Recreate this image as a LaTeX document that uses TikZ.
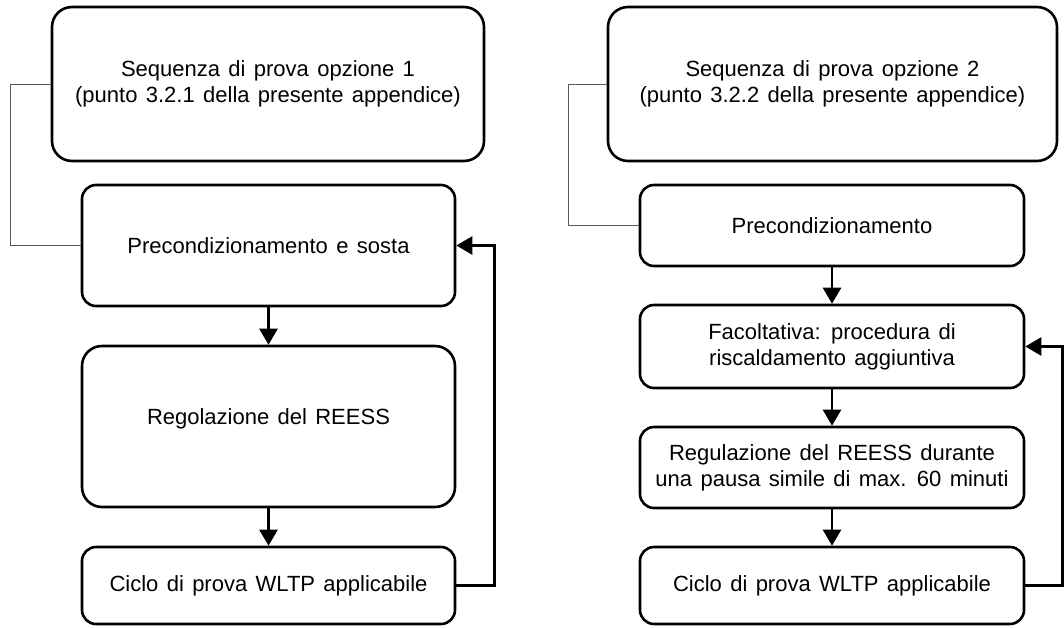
\documentclass[tikz,border=0pt]{standalone}
\usepackage{fontspec}
\setmainfont{Liberation Sans}
\usetikzlibrary{arrows.meta}
\newcommand{\boxfontsel}{\fontsize{22}{26}\selectfont\spaceskip=0.38em plus 0.1em\relax}
\begin{document}
\begin{tikzpicture}[x=1pt,y=-1pt,
  box/.style={draw=black, line width=2.6pt, rounded corners=14pt, align=center,
    font=\boxfontsel, inner sep=0pt},
  bigbox/.style={box, rounded corners=20pt},
  thinline/.style={draw=black!65, line width=1pt},
  arr/.style={draw=black, line width=2.6pt, -{Triangle[length=16pt,width=18pt]}}]
\useasboundingbox (0,0) rectangle (1064,627);
% left column
\node[bigbox, minimum width=432, minimum height=154] (A) at (268,84)
  {Sequenza di prova opzione 1\\(punto 3.2.1 della presente appendice)};
\node[box, minimum width=373, minimum height=121] (B) at (268.5,245.5)
  {Precondizionamento e sosta};
\node[bigbox, minimum width=373, minimum height=161,
  label={[font=\boxfontsel, yshift=8pt]center:Regolazione del REESS}] (C) at (268.5,426.5) {};
\node[box, minimum width=373, minimum height=77] (D) at (268.5,585.5)
  {Ciclo di prova WLTP applicabile};
% right column
\node[bigbox, minimum width=449, minimum height=154] (E) at (832.5,84)
  {Sequenza di prova opzione 2\\(punto 3.2.2 della presente appendice)};
\node[box, minimum width=384, minimum height=81] (F) at (832,225.5)
  {Precondizionamento};
\node[box, minimum width=384, minimum height=83] (G) at (832,346.5)
  {Facoltativa: procedura di\\riscaldamento aggiuntiva};
\node[box, minimum width=384, minimum height=81] (H) at (832,467.5)
  {Regulazione del REESS durante\\una pausa simile di max. 60 minuti};
\node[box, minimum width=384, minimum height=77] (I) at (832,585.5)
  {Ciclo di prova WLTP applicabile};
% thin connectors
\draw[thinline] (A.west) -- ++(-40,0) |- (B.west);
\draw[thinline] (E.west) -- ++(-38,0) |- (F.west);
% arrows
\draw[arr] (B.south) -- (C.north);
\draw[arr] (C.south) -- (D.north);
\draw[arr] (D.east) -- ++(38,0) |- (B.east);
\draw[arr] (F.south) -- (G.north);
\draw[arr] (G.south) -- (H.north);
\draw[arr] (H.south) -- (I.north);
\draw[arr] (I.east) -- ++(37,0) |- (G.east);
\end{tikzpicture}
\end{document}
